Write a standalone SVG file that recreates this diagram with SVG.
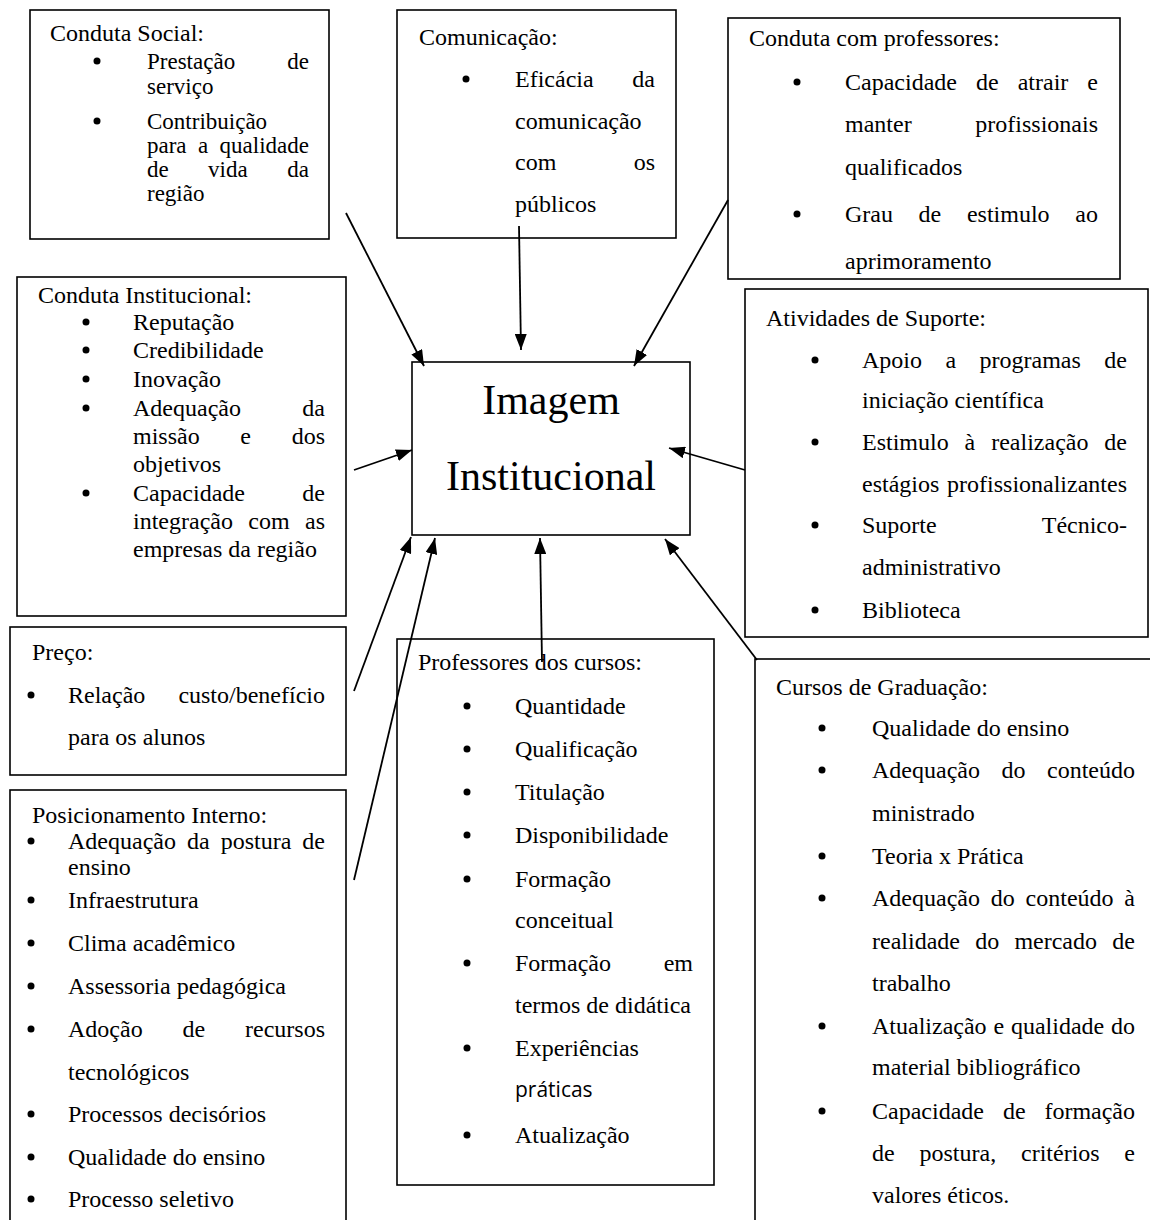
<svg xmlns="http://www.w3.org/2000/svg" width="1150" height="1220" viewBox="0 0 1150 1220">
  <style>
    text { font-family: "Liberation Serif", "Times New Roman", serif; font-size: 24px; fill: #000; }
    .sm { font-size: 23px; }
    .end { text-anchor: end; }
    .mid { text-anchor: middle; }
    .big { font-size: 42px; }
    .sans { font-family: "Open Sans", "Noto Sans", sans-serif; font-size: 21px; }
    .box { fill: #fff; stroke: #000; stroke-width: 1.6; }
    .dot { fill: #000; }
    .link { stroke: #000; stroke-width: 1.8; fill: none; marker-end: url(#head); }
  </style>
  <defs>
    <marker id="head" viewBox="0 0 16 12" refX="16" refY="6" markerWidth="16" markerHeight="12" markerUnits="userSpaceOnUse" orient="auto">
      <path d="M0,0 L16,6 L0,12 z" fill="#000"/>
    </marker>
    <clipPath id="clip-prof">
      <rect x="728" y="18" width="392" height="260"/>
    </clipPath>
  </defs>
  <rect width="1150" height="1220" fill="#fff"/>

  <!-- Conduta Social -->
  <g id="conduta-social">
    <rect class="box" x="30" y="10" width="299" height="229"/>
    <text x="50" y="41">Conduta Social:</text>
    <circle class="dot" cx="97" cy="61" r="3.5"/>
    <text class="sm" x="147" y="69">Prestação</text>
    <text class="sm end" x="309" y="69">de</text>
    <text class="sm" x="147" y="94">serviço</text>
    <circle class="dot" cx="97" cy="121" r="3.5"/>
    <text class="sm" x="147" y="129">Contribuição</text>
    <text class="sm" x="147" y="153">para</text>
    <text class="sm" x="198" y="153">a</text>
    <text class="sm end" x="309" y="153">qualidade</text>
    <text class="sm" x="147" y="177">de</text>
    <text class="sm" x="208" y="177">vida</text>
    <text class="sm end" x="309" y="177">da</text>
    <text class="sm" x="147" y="201">região</text>
  </g>

  <!-- Comunicação -->
  <g id="comunicacao">
    <rect class="box" x="397" y="10" width="279" height="228"/>
    <text x="419" y="45">Comunicação:</text>
    <circle class="dot" cx="466" cy="79" r="3.5"/>
    <text x="515" y="87">Eficácia</text>
    <text class="end" x="655" y="87">da</text>
    <text x="515" y="128.5">comunicação</text>
    <text x="515" y="170">com</text>
    <text class="end" x="655" y="170">os</text>
    <text x="515" y="211.5">públicos</text>
  </g>

  <!-- Conduta com professores -->
  <g id="conduta-professores">
    <rect class="box" x="728" y="18" width="392" height="261"/>
    <g clip-path="url(#clip-prof)">
      <text x="749" y="46">Conduta com professores:</text>
      <circle class="dot" cx="797" cy="82" r="3.5"/>
      <text x="845" y="90">Capacidade</text>
      <text x="976" y="90">de</text>
      <text x="1017.7" y="90">atrair</text>
      <text class="end" x="1098" y="90">e</text>
      <text x="845" y="132">manter</text>
      <text class="end" x="1098" y="132">profissionais</text>
      <text x="845" y="175">qualificados</text>
      <circle class="dot" cx="797" cy="214" r="3.5"/>
      <text x="845" y="222">Grau</text>
      <text x="918.6" y="222">de</text>
      <text x="966.9" y="222">estimulo</text>
      <text class="end" x="1098" y="222">ao</text>
      <text x="845" y="269">aprimoramento</text>
    </g>
  </g>

  <!-- Atividades de Suporte -->
  <g id="atividades-suporte">
    <rect class="box" x="745" y="289" width="403" height="348"/>
    <text x="766" y="326">Atividades de Suporte:</text>
    <circle class="dot" cx="815" cy="360" r="3.5"/>
    <text x="862" y="368">Apoio</text>
    <text x="945.4" y="368">a</text>
    <text x="979.5" y="368">programas</text>
    <text class="end" x="1127" y="368">de</text>
    <text x="862" y="408">iniciação científica</text>
    <circle class="dot" cx="815" cy="442" r="3.5"/>
    <text x="862" y="450">Estimulo</text>
    <text x="964.6" y="450">à</text>
    <text x="991.2" y="450">realização</text>
    <text class="end" x="1127" y="450">de</text>
    <text x="862" y="492">estágios</text>
    <text class="end" x="1127" y="492">profissionalizantes</text>
    <circle class="dot" cx="815" cy="525" r="3.5"/>
    <text x="862" y="533">Suporte</text>
    <text class="end" x="1127" y="533">Técnico-</text>
    <text x="862" y="575">administrativo</text>
    <circle class="dot" cx="815" cy="610" r="3.5"/>
    <text x="862" y="618">Biblioteca</text>
  </g>

  <!-- Conduta Institucional -->
  <g id="conduta-institucional">
    <rect class="box" x="17" y="277" width="329" height="339"/>
    <text x="38" y="303">Conduta Institucional:</text>
    <circle class="dot" cx="86" cy="322" r="3.5"/>
    <text x="133" y="330">Reputação</text>
    <circle class="dot" cx="86" cy="350" r="3.5"/>
    <text x="133" y="358">Credibilidade</text>
    <circle class="dot" cx="86" cy="379" r="3.5"/>
    <text x="133" y="387">Inovação</text>
    <circle class="dot" cx="86" cy="408" r="3.5"/>
    <text x="133" y="416">Adequação</text>
    <text class="end" x="325" y="416">da</text>
    <text x="133" y="444">missão</text>
    <text x="240.3" y="444">e</text>
    <text class="end" x="325" y="444">dos</text>
    <text x="133" y="472">objetivos</text>
    <circle class="dot" cx="86" cy="493" r="3.5"/>
    <text x="133" y="501">Capacidade</text>
    <text class="end" x="325" y="501">de</text>
    <text x="133" y="529">integração</text>
    <text x="248.3" y="529">com</text>
    <text class="end" x="325" y="529">as</text>
    <text x="133" y="557">empresas da região</text>
  </g>

  <!-- Imagem Institucional -->
  <g id="imagem-institucional">
    <rect class="box" x="412" y="362" width="278" height="173"/>
    <text class="big mid" x="551" y="414">Imagem</text>
    <text class="big mid" x="551" y="490">Institucional</text>
  </g>

  <!-- Preço -->
  <g id="preco">
    <rect class="box" x="10" y="627" width="336" height="148"/>
    <text x="32" y="660">Preço:</text>
    <circle class="dot" cx="31" cy="695" r="3.5"/>
    <text x="68" y="703">Relação</text>
    <text class="end" x="325" y="703">custo/benefício</text>
    <text x="68" y="745">para os alunos</text>
  </g>

  <!-- Posicionamento Interno -->
  <g id="posicionamento-interno">
    <rect class="box" x="10" y="790" width="336" height="450"/>
    <text x="32" y="823">Posicionamento Interno:</text>
    <circle class="dot" cx="31" cy="841" r="3.5"/>
    <text x="68" y="849">Adequação</text>
    <text x="187" y="849">da</text>
    <text x="220.7" y="849">postura</text>
    <text class="end" x="325" y="849">de</text>
    <text x="68" y="875">ensino</text>
    <circle class="dot" cx="31" cy="900" r="3.5"/>
    <text x="68" y="908">Infraestrutura</text>
    <circle class="dot" cx="31" cy="943" r="3.5"/>
    <text x="68" y="951">Clima acadêmico</text>
    <circle class="dot" cx="31" cy="986" r="3.5"/>
    <text x="68" y="994">Assessoria pedagógica</text>
    <circle class="dot" cx="31" cy="1029" r="3.5"/>
    <text x="68" y="1037">Adoção</text>
    <text x="182.5" y="1037">de</text>
    <text class="end" x="325" y="1037">recursos</text>
    <text x="68" y="1080">tecnológicos</text>
    <circle class="dot" cx="31" cy="1114" r="3.5"/>
    <text x="68" y="1122">Processos decisórios</text>
    <circle class="dot" cx="31" cy="1157" r="3.5"/>
    <text x="68" y="1165">Qualidade do ensino</text>
    <circle class="dot" cx="31" cy="1199" r="3.5"/>
    <text x="68" y="1207">Processo seletivo</text>
  </g>

  <!-- Professores dos cursos -->
  <g id="professores-cursos">
    <rect class="box" x="397" y="639" width="317" height="546"/>
    <text x="418" y="670">Professores dos cursos:</text>
    <circle class="dot" cx="467" cy="706" r="3.5"/>
    <text x="515" y="714">Quantidade</text>
    <circle class="dot" cx="467" cy="749" r="3.5"/>
    <text x="515" y="757">Qualificação</text>
    <circle class="dot" cx="467" cy="792" r="3.5"/>
    <text x="515" y="800">Titulação</text>
    <circle class="dot" cx="467" cy="835" r="3.5"/>
    <text x="515" y="843">Disponibilidade</text>
    <circle class="dot" cx="467" cy="879" r="3.5"/>
    <text x="515" y="887">Formação</text>
    <text x="515" y="928">conceitual</text>
    <circle class="dot" cx="467" cy="963" r="3.5"/>
    <text x="515" y="971">Formação</text>
    <text class="end" x="693" y="971">em</text>
    <text x="515" y="1013">termos de didática</text>
    <circle class="dot" cx="467" cy="1048" r="3.5"/>
    <text x="515" y="1056">Experiências</text>
    <text class="sans" x="515" y="1097">práticas</text>
    <circle class="dot" cx="467" cy="1135" r="3.5"/>
    <text x="515" y="1143">Atualização</text>
  </g>

  <!-- Cursos de Graduação -->
  <g id="cursos-graduacao">
    <rect class="box" x="755" y="659" width="420" height="600"/>
    <text x="776" y="695">Cursos de Graduação:</text>
    <circle class="dot" cx="822" cy="728" r="3.5"/>
    <text x="872" y="736">Qualidade do ensino</text>
    <circle class="dot" cx="822" cy="770" r="3.5"/>
    <text x="872" y="778">Adequação</text>
    <text x="1001.5" y="778">do</text>
    <text class="end" x="1135" y="778">conteúdo</text>
    <text x="872" y="821">ministrado</text>
    <circle class="dot" cx="822" cy="856" r="3.5"/>
    <text x="872" y="864">Teoria x Prática</text>
    <circle class="dot" cx="822" cy="898" r="3.5"/>
    <text x="872" y="906">Adequação</text>
    <text x="990.8" y="906">do</text>
    <text x="1025.6" y="906">conteúdo</text>
    <text class="end" x="1135" y="906">à</text>
    <text x="872" y="949">realidade</text>
    <text x="975.2" y="949">do</text>
    <text x="1014.4" y="949">mercado</text>
    <text class="end" x="1135" y="949">de</text>
    <text x="872" y="991">trabalho</text>
    <circle class="dot" cx="822" cy="1026" r="3.5"/>
    <text x="872" y="1034">Atualização</text>
    <text x="993.4" y="1034">e</text>
    <text x="1010.9" y="1034">qualidade</text>
    <text class="end" x="1135" y="1034">do</text>
    <text x="872" y="1075">material bibliográfico</text>
    <circle class="dot" cx="822" cy="1111" r="3.5"/>
    <text x="872" y="1119">Capacidade</text>
    <text x="1002.9" y="1119">de</text>
    <text class="end" x="1135" y="1119">formação</text>
    <text x="872" y="1161">de</text>
    <text x="919.5" y="1161">postura,</text>
    <text x="1021" y="1161">critérios</text>
    <text class="end" x="1135" y="1161">e</text>
    <text x="872" y="1203">valores éticos.</text>
  </g>

  <!-- Influence arrows into the central node -->
  <g id="connectors">
    <line class="link" x1="346" y1="213" x2="424" y2="366"/>
    <line class="link" x1="519" y1="226" x2="521" y2="350"/>
    <line class="link" x1="728" y1="200" x2="634" y2="366"/>
    <line class="link" x1="354" y1="470" x2="412" y2="450"/>
    <line class="link" x1="745" y1="470" x2="669" y2="448"/>
    <line class="link" x1="354" y1="691" x2="411" y2="537"/>
    <line class="link" x1="354" y1="880" x2="435" y2="538"/>
    <line class="link" x1="542" y1="662" x2="540" y2="538"/>
    <line class="link" x1="757" y1="660" x2="665" y2="539"/>
  </g>
</svg>
